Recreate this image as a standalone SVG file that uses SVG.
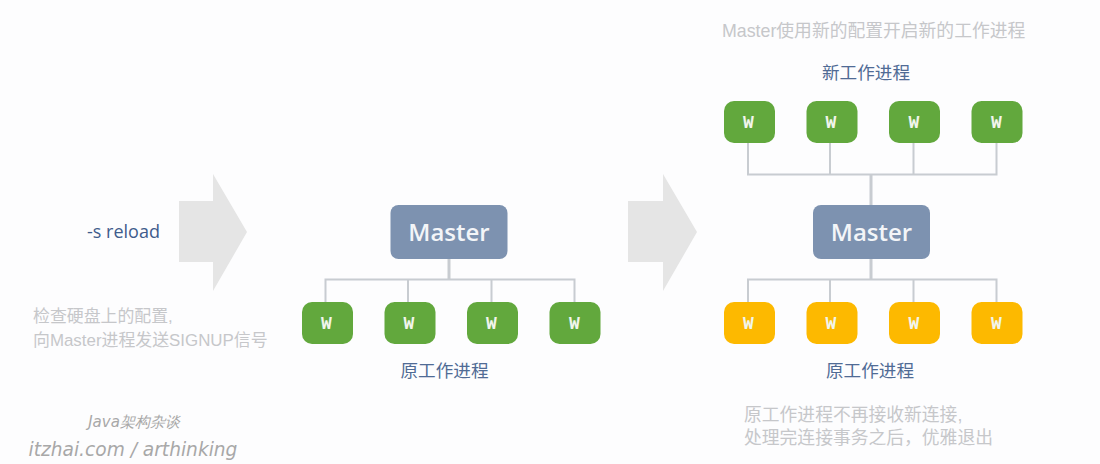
<svg xmlns="http://www.w3.org/2000/svg" width="1100" height="464" viewBox="0 0 1100 464">
<style>
text{font-family:"Liberation Sans","Noto Sans CJK SC",sans-serif}
.m rect{fill:#7d92b0}
.m text{fill:#f3f5f8;font-family:"Open Sans","Noto Sans",sans-serif;font-weight:600;font-size:24px;text-anchor:middle}
.g rect{fill:#62a83d}
.y rect{fill:#fdb900}
.w text{fill:#f1f5ec;font-family:"Liberation Mono",monospace;font-weight:bold;font-size:18px;text-anchor:middle}
.arrow{fill:#e5e5e5}
.c{fill:none;stroke:#c8ccd1;stroke-width:2}
.t{stroke-width:3}
.lab{fill:#506b95;font-size:17.600px;text-anchor:middle}
.note{fill:#c6c7ca;font-size:17.800px}
.sig{fill:#a8a8a8;font-family:"DejaVu Sans",sans-serif;font-style:italic;text-anchor:middle}
</style>
<rect width="1100" height="464" fill="#fdfdfe"/>
<g id="arrows">
<polygon class="arrow" points="179,201 213,201 213,174 247,232 213,291 213,262 179,262"/>
<polygon class="arrow" points="628,201 663,201 663,174 697,232 663,291 663,262 628,262"/>
</g>
<g id="connectors">
<path class="c t" d="M449 259V279"/>
<path class="c" d="M325.500 302V279.500H574.500V302M408 279.500V302M491.500 279.500V302"/>
<path class="c t" d="M871 174V205M871 259V279"/>
<path class="c" d="M748 143V174.500H996.500V143M830 143V174.500M913.500 143V174.500"/>
<path class="c" d="M748 302V279.500H996.500V302M830 279.500V302M913.500 279.500V302"/>
</g>
<g id="master1" class="m"><rect x="390.500" y="205" width="117" height="54" rx="8"/><text x="449" y="241">Master</text></g>
<g id="master2" class="m"><rect x="813" y="205" width="117" height="54" rx="8"/><text x="871.500" y="241">Master</text></g>
<g id="w1" class="w g"><rect x="302" y="302" width="51" height="42" rx="10"/><text x="326.500" y="329">W</text></g>
<g id="w2" class="w g"><rect x="384.500" y="302" width="51" height="42" rx="10"/><text x="409" y="329">W</text></g>
<g id="w3" class="w g"><rect x="467" y="302" width="51" height="42" rx="10"/><text x="491.500" y="329">W</text></g>
<g id="w4" class="w g"><rect x="549.500" y="302" width="51" height="42" rx="10"/><text x="574.500" y="329">W</text></g>
<g id="n1" class="w g"><rect x="724" y="101" width="51" height="42" rx="10"/><text x="748.500" y="128">W</text></g>
<g id="n2" class="w g"><rect x="806.500" y="101" width="51" height="42" rx="10"/><text x="831" y="128">W</text></g>
<g id="n3" class="w g"><rect x="889" y="101" width="51" height="42" rx="10"/><text x="914" y="128">W</text></g>
<g id="n4" class="w g"><rect x="971.500" y="101" width="51" height="42" rx="10"/><text x="996.500" y="128">W</text></g>
<g id="o1" class="w y"><rect x="724" y="302" width="51" height="42" rx="10"/><text x="748.500" y="329">W</text></g>
<g id="o2" class="w y"><rect x="806.500" y="302" width="51" height="42" rx="10"/><text x="831" y="329">W</text></g>
<g id="o3" class="w y"><rect x="889" y="302" width="51" height="42" rx="10"/><text x="914" y="329">W</text></g>
<g id="o4" class="w y"><rect x="971.500" y="302" width="51" height="42" rx="10"/><text x="996.500" y="329">W</text></g>
<g id="labels">
<text x="123.500" y="238" text-anchor="middle" style="font-family:'Open Sans',sans-serif;font-size:18px;fill:#3f5c8c">-s reload</text>
<text class="note" x="33" y="322" style="font-size:16.900px">检查硬盘上的配置,</text>
<text class="note" x="33" y="346" style="font-size:16.900px">向Master进程发送SIGNUP信号</text>
<text class="lab" x="444.500" y="377">原工作进程</text>
<text class="note" x="722" y="37">Master使用新的配置开启新的工作进程</text>
<text class="lab" x="866" y="79">新工作进程</text>
<text class="lab" x="870" y="377">原工作进程</text>
<text class="note" x="744" y="421">原工作进程不再接收新连接,</text>
<text class="note" x="744" y="444">处理完连接事务之后，优雅退出</text>
<text class="sig" x="134" y="427" style="font-size:15px">Java架构杂谈</text>
<text class="sig" x="133" y="456" style="font-size:18.600px">itzhai.com / arthinking</text>
</g>
</svg>
